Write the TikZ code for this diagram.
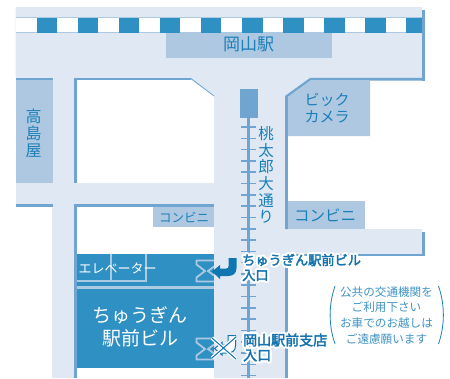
\documentclass[tikz,border=0pt]{standalone}
\usepackage{fontspec}
\setmainfont{Noto Sans CJK JP}
\definecolor{road}{HTML}{DFE8F3}
\definecolor{edgeblue}{HTML}{6FA5D0}
\definecolor{boxblue}{HTML}{AFC8E1}
\definecolor{bldg}{HTML}{2F90C3}
\definecolor{inkblue}{HTML}{1B7FB8}
\definecolor{noteblue}{HTML}{3F93C6}
\definecolor{bldgline}{HTML}{ACC9E2}
\definecolor{arrowblue}{HTML}{0F76B2}
\newcommand{\fs}[1]{\fontsize{#1pt}{#1pt}\selectfont}
\tikzset{
  x=1pt,y=-1pt,
  roadfill/.style={fill=road,draw=none},
  edgeline/.style={draw=edgeblue,line width=2.6pt},
  sitebox/.style={fill=boxblue,draw=none},
  tx/.style={text=inkblue,inner sep=0pt,align=center},
  wh/.style={text=white,inner sep=0pt,align=center},
  notetx/.style={text=noteblue,inner sep=0pt,align=center,font=\fs{11.6}},
  doorline/.style={draw=bldgline,line width=1.8pt,line join=miter},
}
% text with a white halo, then a slightly heavier blue text on top: one node, two strokes
\newcommand{\halolabel}[4]{%
  \node[anchor=west,inner sep=0pt,font=\fs{#4}] at (#1,#2) {%
    \rlap{\special{pdf:code q 2 Tr 4.6 w 1 J 1 j 1 1 1 RG 1 1 1 rg}#3\special{pdf:code Q}}%
    \special{pdf:code q 2 Tr 0.35 w 0.08 0.45 0.69 RG 0.08 0.45 0.69 rg}#3\special{pdf:code Q}};
}
\begin{document}
\begin{tikzpicture}
\useasboundingbox (0,0) rectangle (450,378);
\fill[white] (0,0) rectangle (450,378);
% roads
\fill[roadfill] (15.5,7) -- (422,7) -- (422,78) -- (310,78) -- (287,96) -- (287,229) -- (422,229) -- (422,254) -- (287,254) -- (287,378) -- (214,378) -- (214,96) -- (191,78) -- (15.5,78) -- cycle;
\fill[roadfill] (15.5,78) rectangle (214,207);
\fill[white] (74,80) -- (191,80) -- (214,96) -- (214,183) -- (74,183) -- cycle;
\fill[roadfill] (52,183) rectangle (74,378);
% stripes
\fill[white] (15.5,17.5) rectangle (422,32);
\draw[draw=bldgline,line width=.7pt] (15.5,17.5) -- (422,17.5) (15.5,32) -- (422,32);
\foreach \a in {36.5,77.6,118.7,159.8,200.9,242,283,324,365,406}{
  \pgfmathsetmacro{\b}{min(\a+20.5,423)}
  \fill[bldg] (\a,17.5) rectangle (\b,32.5);
}
% outlines
\fill[edgeblue] (422,10) rectangle (424.5,80.5);
\draw[edgeline] (424.5,79.2) -- (310.5,79.2) -- (286.5,96.5) -- (286.5,229);
\draw[edgeline] (286.5,254.5) -- (286.5,378);
\fill[edgeblue] (422,232) rectangle (424.5,256);
\fill[edgeblue] (287,253.5) rectangle (424.5,256);
\fill[edgeblue] (15.5,77.5) rectangle (52.5,80);
\fill[edgeblue] (74,77.5) rectangle (191,80);
\fill[edgeblue] (74,77.5) rectangle (77,183);
\draw[edgeblue,line width=.8pt] (191,78.5) -- (214,96);
\fill[edgeblue] (15.5,204) rectangle (52.5,206.5);
\fill[edgeblue] (74,204) rectangle (214,206.5);
\fill[edgeblue] (74,204) rectangle (77,378);
% sites
\fill[sitebox] (166,32.5) rectangle (332,58);
\fill[sitebox] (15.5,80) rectangle (52.5,183);
\fill[sitebox] (311,80) -- (370,80) -- (370,136) -- (288,136) -- (288,97) -- cycle;
\fill[sitebox] (288,201) rectangle (365,229);
\fill[sitebox] (153,207) rectangle (214,227);
% building
\fill[bldg] (77,254) rectangle (214,368);
\fill[bldgline] (77,286) rectangle (214,289);
\draw[draw=bldgline,line width=2pt] (77,281) -- (146,281) -- (146,254);
\draw[draw=bldgline,line width=2pt] (110.5,254) -- (110.5,281);
% entrances
\draw[doorline] (214,260.5) -- (196.5,260.5) -- (196.5,264.5) -- (205,271) -- (196.5,277.5) -- (196.5,281.5) -- (214,281.5);
\draw[doorline] (214,266.5) -- (208,271) -- (214,275.5);
\draw[doorline] (214,338.5) -- (196.5,338.5) -- (196.5,342.5) -- (205,349) -- (196.5,355.5) -- (196.5,359.5) -- (214,359.5);
\draw[doorline] (214,344.5) -- (208,349) -- (214,353.5);
% track
\fill[edgeblue] (240,89) rectangle (258,118);
\fill[edgeblue] (246.5,118) rectangle (250.3,378);
\foreach \i in {0,...,22}{
  \fill[edgeblue] (241,126.2+\i*11.3) rectangle (256,127.8+\i*11.3);
}
% labels
\node[tx] (station) at (248.5,44) {\fs{17}岡山駅};
\node[tx,font=\fs{16}] (taka) at (33.5,133) {高\\[1pt]島\\[1pt]屋};
\node[tx,font=\fs{15}] (bic) at (327,108.5) {ビック\\[2pt]カメラ};
\node[tx,font=\fs{15.5}] (momo) at (266,175) {桃\\[1.2pt]太\\[1.2pt]郎\\[1.2pt]大\\[1.2pt]通\\[1.2pt]り};
\node[tx] (kon1) at (325,215) {\fs{15.5}コンビニ};
\node[tx] (kon2) at (184,217) {\fs{12.5}コンビニ};
\node[wh] (elev) at (117.5,268) {\fs{13}エレベーター};
\node[wh,font=\fs{19}] (bname) at (140,327) {ちゅうぎん\\[4pt]駅前ビル};
% entrance arrow
\fill[arrowblue] (212,271.5) -- (220,265) -- (220,268.5) -- (226,268.5) .. controls (228,268.5) and (228.5,268) .. (228.5,266) -- (228.5,258) -- (236.5,258) -- (236.5,268) .. controls (236.5,273.5) and (233,276) .. (228,276) -- (220,276) -- (220,279) -- cycle;
% closed entrance arrow
\draw[arrowblue,fill=white,line width=1pt] (214.5,348.5) -- (222,342.5) -- (222,345) -- (226,345) .. controls (227.5,345) and (228,344.5) .. (228,343) -- (228,335.5) -- (235.5,335.5) -- (235.5,346) .. controls (235.5,351) and (232,353) .. (227,353) -- (222,353) -- (222,355) -- cycle;
\draw[white,line width=3.6pt] (212,338) -- (236,359) (212,358) -- (236,337);
\draw[arrowblue,line width=1pt] (212,338) -- (236,359) (212,358) -- (236,337);
% entrance labels
\halolabel{242}{260}{ちゅうぎん駅前ビル}{13.2}
\halolabel{242}{275.5}{入口}{13.2}
\halolabel{243}{340}{岡山駅前支店}{14}
\halolabel{243}{355.5}{入口}{14}
% note
\node[notetx] (n1) at (386.5,292) {公共の交通機関を};
\node[notetx] (n2) at (386.5,307) {ご利用下さい};
\node[notetx] (n3) at (386.5,323) {お車でのお越しは};
\node[notetx] (n4) at (386.5,339) {ご遠慮願います};
\draw[inkblue,line width=.8pt] (335,286) .. controls (328.5,305) and (328.5,325) .. (335,344);
\draw[inkblue,line width=.8pt] (438.5,286) .. controls (445,305) and (445,325) .. (438.5,344);
\end{tikzpicture}
\end{document}
